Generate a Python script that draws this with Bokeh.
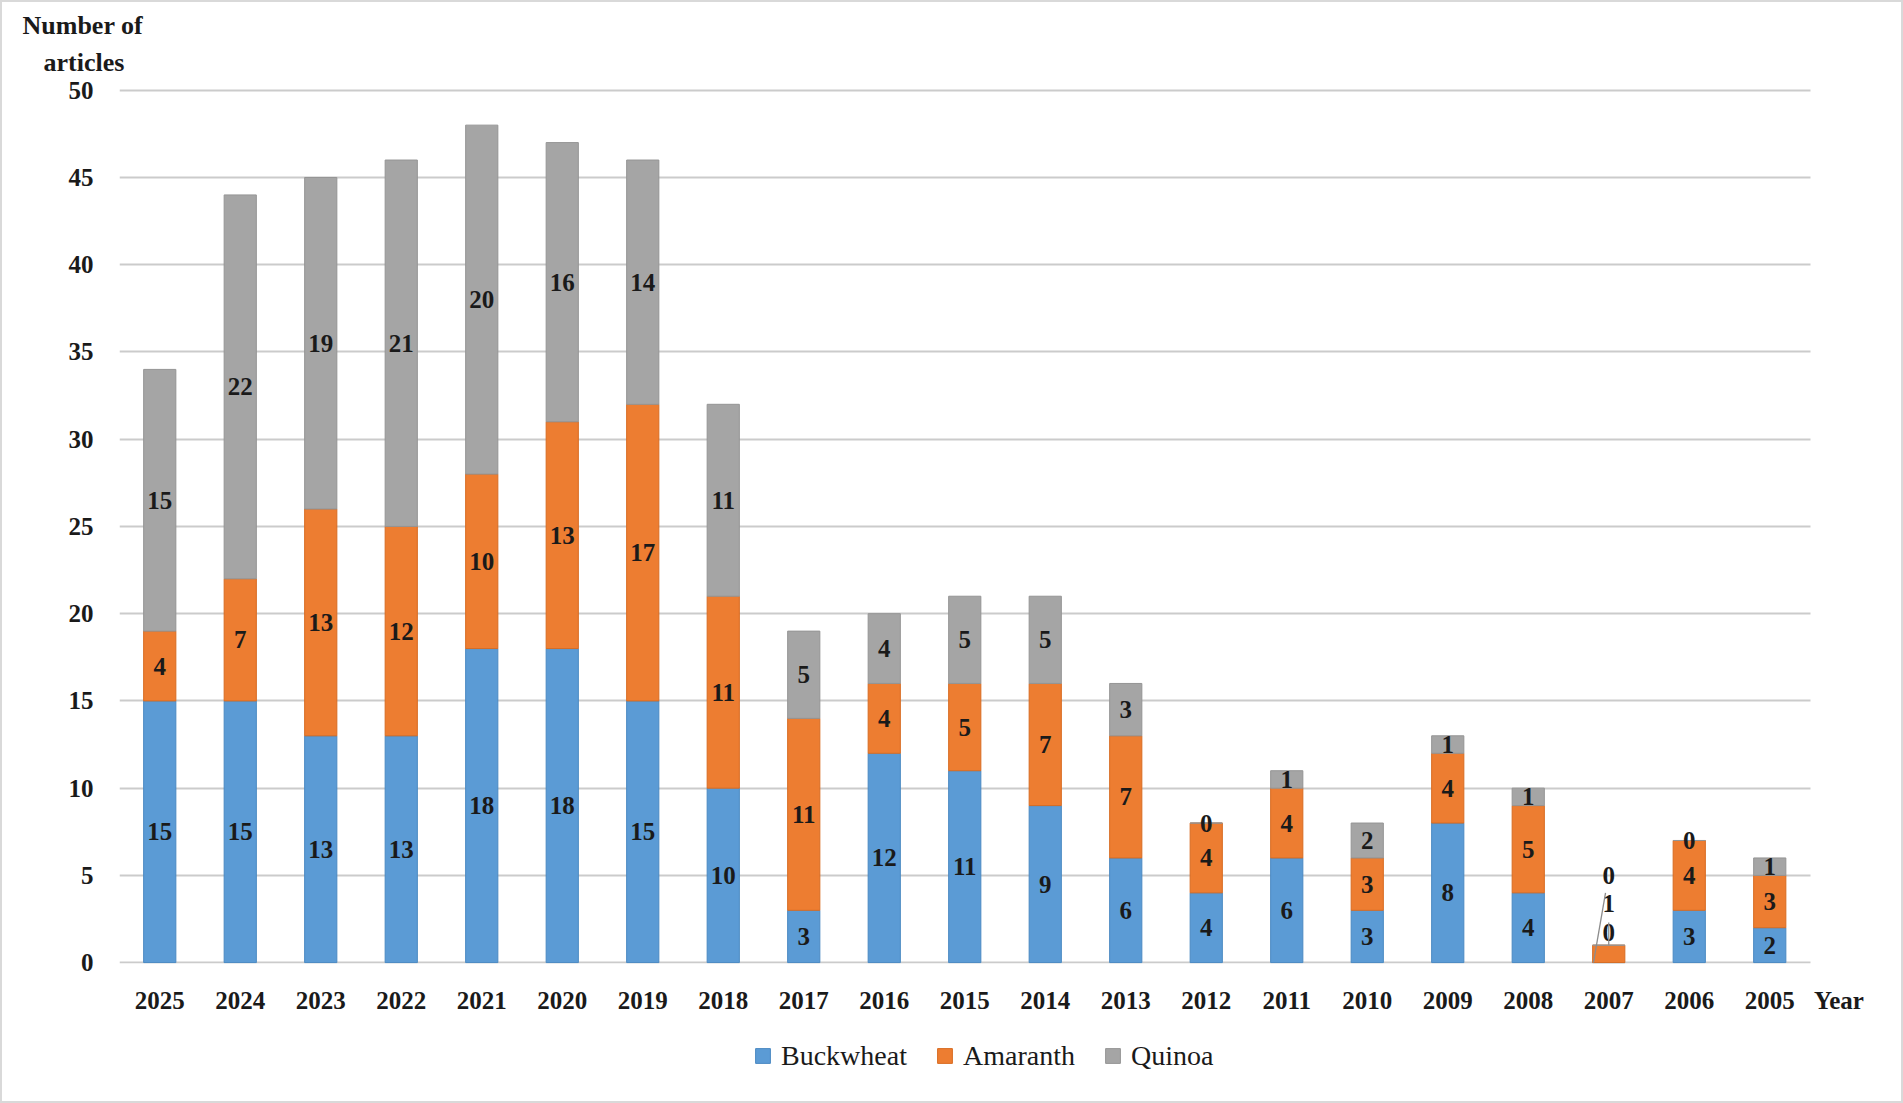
from bokeh.plotting import figure
from bokeh.layouts import column
from bokeh.models import (Range1d, ColumnDataSource, Legend, LegendItem, FixedTicker, Title, BoxAnnotation)
from bokeh.core.properties import value
from bokeh.embed import file_html
from bokeh.resources import INLINE

# ---------------- data ----------------
years = ["2025", "2024", "2023", "2022", "2021", "2020", "2019", "2018", "2017", "2016",
         "2015", "2014", "2013", "2012", "2011", "2010", "2009", "2008", "2007", "2006", "2005"]
buckwheat = [15, 15, 13, 13, 18, 18, 15, 10, 3, 12, 11, 9, 6, 4, 6, 3, 8, 4, 0, 3, 2]
amaranth = [4, 7, 13, 12, 10, 13, 17, 11, 11, 4, 5, 7, 7, 4, 4, 3, 4, 5, 1, 4, 3]
quinoa = [15, 22, 19, 21, 20, 16, 14, 11, 5, 4, 5, 5, 3, 0, 1, 2, 1, 1, 0, 0, 1]
series_names = ["Buckwheat", "Amaranth", "Quinoa"]
y_ticks = [0, 5, 10, 15, 20, 25, 30, 35, 40, 45, 50]
x_title = "Year"
y_title = ["Number of", "articles"]

# ---------------- style ----------------
FONT = "Liberation Serif"
TXT = "#1a1a1a"
fills = ["#5B9BD5", "#ED7D31", "#A5A5A5"]
edges = ["#4A89C2", "#D86C22", "#959595"]

n = len(years)
xpos = [i + 0.5 for i in range(n)]          # category centres on the numeric scale
year_tick = n + 0.36                          # where the "Year" caption sits

W = 1899
H_MAIN, H_LEG = 1021, 78
p = figure(x_range=Range1d(0, n + 1), y_range=Range1d(-0.05, 50.1),
           width=W, height=H_MAIN, output_backend="svg", toolbar_location=None,
           min_border_left=117, min_border_right=11, min_border_top=86, min_border_bottom=60)
p.outline_line_color = None
p.background_fill_color = "white"
p.border_fill_color = "white"

src = ColumnDataSource(dict(x=xpos, Buckwheat=buckwheat, Amaranth=amaranth, Quinoa=quinoa))
bars = p.vbar_stack(series_names, x="x", width=0.4, source=src,
                    fill_color=fills, line_color=edges, line_width=1)

# grid
p.xgrid.grid_line_color = None
p.ygrid.grid_line_color = "#CBCBCB"
p.ygrid.grid_line_width = 2
p.ygrid.ticker = FixedTicker(ticks=y_ticks)
try:
    p.ygrid.cross_bounds = (0, n)
except AttributeError:
    p.add_layout(BoxAnnotation(left=n, right=n + 1, bottom=-1, top=51, fill_color="white",
                               fill_alpha=1, line_color=None, level="underlay"))

# axes
p.yaxis.ticker = FixedTicker(ticks=y_ticks)
p.xaxis.ticker = FixedTicker(ticks=xpos + [year_tick])
overrides = {x: y for x, y in zip(xpos, years)}
overrides[year_tick] = x_title
p.xaxis.major_label_overrides = overrides
for ax in (p.xaxis[0], p.yaxis[0]):
    ax.axis_line_color = None
    ax.major_tick_line_color = None
    ax.minor_tick_line_color = None
    ax.major_tick_out = 0
    ax.major_tick_in = 0
    ax.major_label_text_font = FONT
    ax.major_label_text_font_style = "bold"
    ax.major_label_text_font_size = "25px"
    ax.major_label_text_color = TXT
p.yaxis.major_label_standoff = 26
p.xaxis.major_label_standoff = 23

# data labels (centred in each segment)
lx, ly, lt = [], [], []
bottoms = [0] * n
for name, vals in zip(series_names, [buckwheat, amaranth, quinoa]):
    for i, v in enumerate(vals):
        lx.append(xpos[i])
        ly.append(bottoms[i] + v / 2)
        lt.append(str(v))
        bottoms[i] += v
# Excel moved the crowded 2007 labels upward
i07 = years.index("2007")
for k, yy in enumerate([1.7, 3.4, 5.0]):
    ly[k * n + i07] = yy
p.text(x=lx, y=ly, text=lt, text_align="center", text_baseline="middle",
       text_font=value(FONT), text_font_style="bold", text_font_size="25px", text_color=TXT)

# leader lines for 2007
c07 = xpos[i07]
p.segment(x0=[c07 - 0.19], y0=[0], x1=[c07 - 0.04], y1=[4.0], line_color="#8C8C8C", line_width=1.3)
p.segment(x0=[c07], y0=[amaranth[i07]], x1=[c07], y1=[2.3], line_color="#8C8C8C", line_width=1.3)

# y-axis caption (two lines, above the plot, left)
def make_title(text, offset, standoff):
    kw = dict(text=text, align="left", offset=offset, text_font=FONT, text_font_style="bold",
              text_font_size="26px", text_color=TXT)
    try:
        return Title(standoff=standoff, **kw)
    except ValueError:
        return Title(standoff=0, **kw)

p.add_layout(make_title(y_title[1], -76, 24), "above")
p.add_layout(make_title(y_title[0], -97, -12), "above")

# legend strip (separate canvas so the legend is not clipped)
q = figure(x_range=Range1d(0, 1), y_range=Range1d(0, 1), width=W, height=H_LEG,
           output_backend="svg", toolbar_location=None,
           min_border_left=0, min_border_right=0, min_border_top=0, min_border_bottom=0)
q.axis.visible = False
q.grid.visible = False
q.outline_line_color = None
q.background_fill_color = "white"
q.border_fill_color = "white"
items = []
for name, fc, ec in zip(series_names, fills, edges):
    r = q.scatter(x=[float("nan")], y=[float("nan")], marker="square",
                  fill_color=fc, line_color=ec, line_width=1)
    items.append(LegendItem(label=name, renderers=[r]))
legend = Legend(items=items, orientation="horizontal", location=(625, 27),
                glyph_width=37, glyph_height=37, label_standoff=-7, spacing=19,
                padding=0, margin=0, border_line_color=None, background_fill_alpha=0,
                label_text_font=FONT, label_text_font_size="28px", label_text_color=TXT)
q.add_layout(legend, "center")

page = column(p, q, spacing=0, styles={"border": "2px solid #d9d9d9"})
open("out.html", "w").write(file_html(page, INLINE))
